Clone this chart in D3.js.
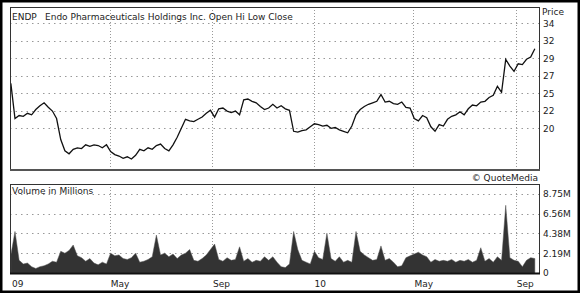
<!DOCTYPE html>
<html>
<head>
<meta charset="utf-8">
<script src="https://cdn.jsdelivr.net/npm/d3@7"></script>
<style>
  body { margin: 0; background: #fff; }
  svg text { font-family: "DejaVu Sans", sans-serif; fill: #222; font-size: 9px; }
</style>
</head>
<body>
<div id="chart"></div>
<script>
// ---- data (one sample every 5 calendar days) ----
const dates = d3.timeDay.range(new Date(2009, 0, 2), new Date(2010, 8, 29), 5);

const closes = [
  26.0, 21.3, 21.7, 21.6, 22.0, 21.8, 22.5, 23.0, 23.4, 22.8,
  22.3, 21.3, 18.5, 17.0, 16.6, 17.2, 17.4, 17.3, 17.8, 17.6,
  17.8, 17.7, 17.4, 17.8, 16.9, 16.5, 16.3, 16.0, 16.2, 15.9,
  16.4, 17.2, 17.0, 17.4, 17.2, 17.7, 17.9, 17.3, 17.0, 17.8,
  18.8, 20.0, 21.2, 21.0, 20.9, 21.2, 21.5, 22.0, 22.4, 21.5,
  22.6, 22.7, 22.3, 22.1, 22.3, 21.8, 23.8, 23.9, 23.6, 23.4,
  22.9, 22.5, 22.7, 23.2, 22.7, 23.0, 22.6, 22.4, 19.6, 19.5,
  19.7, 19.8, 20.2, 20.6, 20.5, 20.3, 20.4, 20.0, 20.1, 19.8,
  19.6, 19.4, 20.3, 21.8, 22.5, 22.9, 23.2, 23.4, 23.6, 24.5,
  23.5, 23.6, 23.3, 23.2, 23.5, 22.8, 22.7, 21.3, 21.0, 21.7,
  21.4, 20.2, 19.6, 20.5, 20.3, 21.2, 21.6, 21.8, 22.2, 21.8,
  22.6, 23.1, 23.0, 23.5, 23.6, 24.1, 24.4, 25.6, 24.8, 29.2,
  28.3, 27.6, 28.6, 28.5, 29.2, 29.5, 30.6
];

// volume in millions
const volumes = [
  2.0, 4.6, 1.4, 1.0, 1.1, 0.7, 0.5, 0.7, 0.8, 1.0,
  1.3, 1.2, 2.4, 2.2, 2.5, 3.1, 1.9, 1.7, 1.3, 1.6,
  1.1, 0.9, 1.2, 1.0, 2.2, 1.9, 2.0, 1.6, 1.5, 1.7,
  2.2, 1.2, 1.3, 1.5, 1.8, 4.2, 2.0, 2.2, 1.8, 2.1,
  1.6, 2.0, 2.2, 2.6, 1.4, 1.3, 1.6, 2.0, 2.6, 3.2,
  1.5, 1.3, 1.7, 1.4, 1.5, 2.9, 1.3, 1.6, 1.2, 1.4,
  1.3, 1.8, 1.4, 1.8, 1.2, 0.7, 0.6, 1.0, 4.6, 2.6,
  1.4, 1.2, 1.0, 2.4, 1.7, 1.5, 4.4, 1.6, 1.3, 1.8,
  1.2, 1.4, 1.2, 4.6, 2.4, 2.0, 1.7, 1.4, 1.5, 3.0,
  1.4, 1.6, 1.2, 0.7, 0.8, 1.7, 1.9, 2.1, 2.3, 2.0,
  1.8, 1.2, 1.5, 1.3, 1.4, 1.3, 1.5, 1.2, 1.4, 1.3,
  1.5, 1.2, 1.4, 2.8, 1.3, 1.6, 1.2, 1.8, 1.4, 7.5,
  1.7, 1.4, 1.3, 0.7, 1.4, 1.7, 1.6
];

// axis ticks
const priceTicks = [20, 22.333, 24.667, 27, 29.333, 31.667, 34];
const priceTickLabels = ["20", "22", "25", "27", "29", "32", "34"];
const volTicks = [0, 2.19, 4.38, 6.56, 8.75];
const volTickLabels = ["0", "2.19M", "4.38M", "6.56M", "8.75M"];
const monthTicks = [new Date(2009, 0, 1), new Date(2009, 4, 1), new Date(2009, 8, 1),
                    new Date(2010, 0, 1), new Date(2010, 4, 1), new Date(2010, 8, 1)];
const monthLabels = ["09", "May", "Sep", "10", "May", "Sep"];

// ---- layout ----
const W = 580, H = 293;
const left = 10, right = 539;
const price = { top: 7, bottom: 170 };
const vol = { top: 184, bottom: 273 };

const svg = d3.select("#chart")
  .append("svg")
  .attr("width", W)
  .attr("height", H);

// outer frame
svg.append("rect")
  .attr("x", 1.25).attr("y", 1.25)
  .attr("width", W - 2.5).attr("height", H - 2.5)
  .attr("fill", "#fff")
  .attr("stroke", "#000")
  .attr("stroke-width", 2.5);

// scales
const x = d3.scaleTime()
  .domain([new Date(2009, 0, 1), new Date(2010, 8, 29)])
  .range([left, right]);

const y = d3.scaleLinear()
  .domain([20, 34])
  .range([128.3, 23.3]);

const yv = d3.scaleLinear()
  .domain([0, 8.75])
  .range([vol.bottom, 194]);

// ---- gridlines ----
function vGrid(top, bottom) {
  svg.append("g")
    .selectAll("line")
    .data(monthTicks.slice(1))
    .enter()
    .append("line")
    .attr("x1", d => Math.round(x(d)) + 0.5)
    .attr("x2", d => Math.round(x(d)) + 0.5)
    .attr("y1", top)
    .attr("y2", bottom)
    .attr("stroke", "#999")
    .attr("stroke-dasharray", "1,2");
}
vGrid(price.top, price.bottom);
vGrid(vol.top, vol.bottom);

svg.append("g")
  .selectAll("line")
  .data(priceTicks)
  .enter()
  .append("line")
  .attr("x1", left)
  .attr("x2", right)
  .attr("y1", d => Math.round(y(d)) + 0.5)
  .attr("y2", d => Math.round(y(d)) + 0.5)
  .attr("stroke", "#999")
  .attr("stroke-dasharray", "1.5,4");

svg.append("g")
  .selectAll("line")
  .data(volTicks.slice(1))
  .enter()
  .append("line")
  .attr("x1", left)
  .attr("x2", right)
  .attr("y1", d => Math.round(yv(d)) + 0.5)
  .attr("y2", d => Math.round(yv(d)) + 0.5)
  .attr("stroke", "#999")
  .attr("stroke-dasharray", "1.5,4");

// ---- price line ----
const priceData = dates.map((d, i) => ({ date: d, value: closes[i] }));

const line = d3.line()
  .x(d => x(d.date))
  .y(d => y(d.value));

svg.append("path")
  .datum(priceData)
  .attr("fill", "none")
  .attr("stroke", "#111")
  .attr("stroke-width", 1.3)
  .attr("d", line);

// ---- volume area ----
const volData = dates.map((d, i) => ({ date: d, value: volumes[i] }));

const area = d3.area()
  .x(d => x(d.date))
  .y0(yv(0))
  .y1(d => yv(d.value));

svg.append("path")
  .datum(volData)
  .attr("fill", "#333")
  .attr("stroke", "#555")
  .attr("stroke-width", 0.5)
  .attr("d", area);

// ---- panel borders ----
svg.append("rect")
  .attr("x", left + 0.5).attr("y", price.top + 0.5)
  .attr("width", right - left).attr("height", price.bottom - price.top)
  .attr("fill", "none")
  .attr("stroke", "#333");

svg.append("line")
  .attr("x1", left).attr("x2", right + 1)
  .attr("y1", price.bottom).attr("y2", price.bottom)
  .attr("stroke", "#555")
  .attr("stroke-width", 2);

svg.append("rect")
  .attr("x", left + 0.5).attr("y", vol.top + 0.5)
  .attr("width", right - left).attr("height", vol.bottom - vol.top)
  .attr("fill", "none")
  .attr("stroke", "#333");

svg.append("line")
  .attr("x1", left).attr("x2", right + 1)
  .attr("y1", vol.bottom + 0.5).attr("y2", vol.bottom + 0.5)
  .attr("stroke", "#111")
  .attr("stroke-width", 2);

// ---- text ----
svg.append("text")
  .attr("x", 12).attr("y", 20)
  .text("ENDP");

svg.append("text")
  .attr("x", 45).attr("y", 20)
  .text("Endo Pharmaceuticals Holdings Inc. Open Hi Low Close");

svg.append("text")
  .attr("x", 542).attr("y", 15)
  .text("Price");

svg.append("g")
  .selectAll("text")
  .data(priceTicks)
  .enter()
  .append("text")
  .attr("x", 543)
  .attr("y", d => y(d) + 3.3)
  .text((d, i) => priceTickLabels[i]);

svg.append("text")
  .attr("x", 538).attr("y", 181)
  .style("text-anchor", "end")
  .text("© QuoteMedia");

svg.append("text")
  .attr("x", 12).attr("y", 194)
  .text("Volume in Millions");

svg.append("g")
  .selectAll("text")
  .data(volTicks)
  .enter()
  .append("text")
  .attr("x", 543)
  .attr("y", d => yv(d) + 3.3)
  .text((d, i) => volTickLabels[i]);

svg.append("g")
  .selectAll("text")
  .data(monthTicks)
  .enter()
  .append("text")
  .attr("x", d => Math.max(x(d), 11) + 1)
  .attr("y", 287)
  .text((d, i) => monthLabels[i]);
</script>
</body>
</html>
